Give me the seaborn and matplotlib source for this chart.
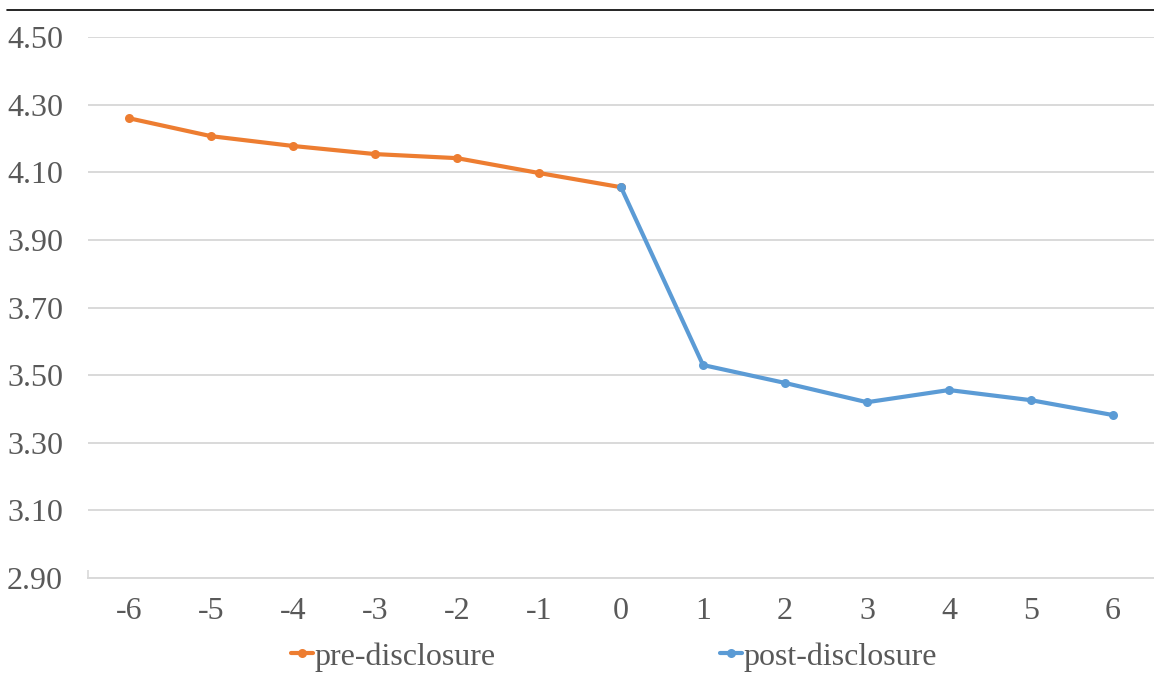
import pandas as pd
import matplotlib.pyplot as plt
import seaborn as sns
from matplotlib.lines import Line2D

# Event window values
pre_x = [-6, -5, -4, -3, -2, -1, 0]
pre_y = [4.260, 4.207, 4.178, 4.154, 4.142, 4.098, 4.056]
post_x = [0, 1, 2, 3, 4, 5, 6]
post_y = [4.056, 3.530, 3.477, 3.420, 3.456, 3.426, 3.382]
y_ticks = [2.90, 3.10, 3.30, 3.50, 3.70, 3.90, 4.10, 4.30, 4.50]

sns.set_theme(style="whitegrid")
plt.rcParams['font.family'] = ['Liberation Serif', 'DejaVu Serif']

pre_df = pd.DataFrame({'t': pre_x, 'v': pre_y})
post_df = pd.DataFrame({'t': post_x, 'v': post_y})

fig = plt.figure(figsize=(11.54, 6.75), dpi=100)
ax = fig.add_axes([0.0763, 0.1437, 0.9237, 0.8013])

sns.lineplot(data=pre_df, x='t', y='v', ax=ax, color='#ED7D31', linewidth=3,
             marker='o', markersize=6.5, markeredgewidth=0, label='pre-disclosure')
sns.lineplot(data=post_df, x='t', y='v', ax=ax, color='#5B9BD5', linewidth=3,
             marker='o', markersize=6.5, markeredgewidth=0, label='post-disclosure')

ax.set_xlim(-6.5, 6.5)
ax.set_ylim(2.9, 4.5)
ax.set_yticks(y_ticks)
ax.set_yticklabels([f'{v:.2f}' for v in y_ticks])
ax.set_xticks(range(-6, 7))
ax.set_xticklabels([str(i) for i in range(-6, 7)])
ax.set_xticks([-6.5], minor=True)
ax.set_xlabel('')
ax.set_ylabel('')

ax.grid(axis='y', color='#D9D9D9', linewidth=1.4)
ax.grid(axis='x', visible=False)
for side in ['top', 'right', 'left']:
    ax.spines[side].set_visible(False)
ax.spines['bottom'].set_color('#D9D9D9')
ax.spines['bottom'].set_linewidth(1.4)

ax.tick_params(axis='y', labelsize=23, labelcolor='#595959', length=0, pad=18)
ax.tick_params(axis='x', which='major', labelsize=23, labelcolor='#595959', length=0, pad=14)
ax.tick_params(axis='x', which='minor', bottom=True, direction='in', length=6,
               width=1.2, color='#D9D9D9')

ax.get_legend().remove()
handles, labels = ax.get_legend_handles_labels()
fig.legend(handles, labels, loc='center', bbox_to_anchor=(0.532, 0.027), ncol=2,
           frameon=False, fontsize=23, labelcolor='#595959', handlelength=0.7,
           handletextpad=0.05, columnspacing=7.0)

fig.add_artist(Line2D([0.006, 1.0], [0.985, 0.985], color='black', linewidth=1.2))

fig.savefig('out.png', dpi=100)
plt.close()
